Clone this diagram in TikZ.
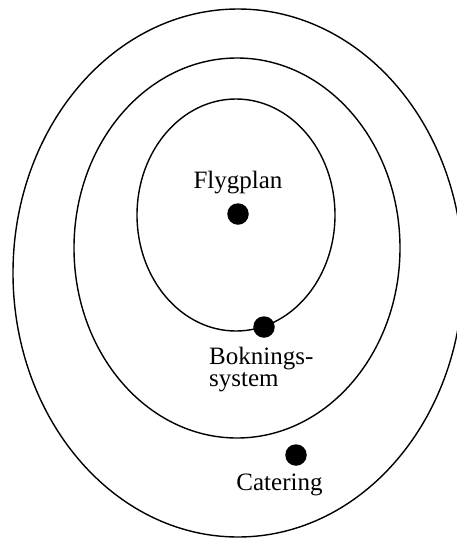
\documentclass[tikz,border=0pt]{standalone}
\usepackage{fontspec}
\setmainfont{Liberation Serif}
\begin{document}
\begin{tikzpicture}[x=1pt,y=-1pt,
  ring/.style={draw=black,line width=1.4pt},
  dot/.style={circle,fill=black,minimum size=21.5pt,inner sep=0pt},
  lbl/.style={inner sep=0pt,font=\fontsize{25}{22}\selectfont}]
\useasboundingbox (0,0) rectangle (457,539);
\fill[white] (0,0) rectangle (457,539);
\begin{scope}
\clip (0,0) rectangle (457,539);
\draw[ring] (238,273) ellipse [x radius=225, y radius=264];
\draw[ring] (237,248) ellipse [x radius=163, y radius=190];
\draw[ring] (236,215) ellipse [x radius=99, y radius=116];
\end{scope}
\node[dot] (flyg) at (238,214) {};
\node[dot] (bok) at (264,327) {};
\node[dot] (cat) at (296,455) {};
\node[lbl,anchor=base] (flygl) at (238,188) {Flygplan};
\node[lbl,anchor=north west,align=left] (bokl) at (209,347) {Boknings-\\system};
\node[lbl,anchor=base] (catl) at (279.5,490) {Catering};
\end{tikzpicture}
\end{document}
